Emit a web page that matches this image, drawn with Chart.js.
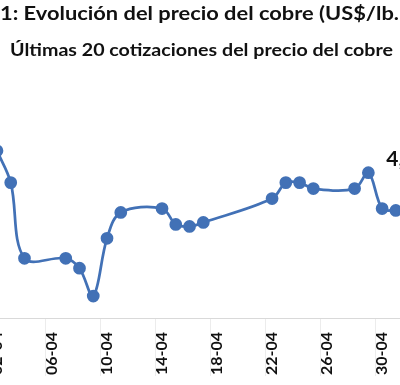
<!DOCTYPE html>
<html>
<head>
<meta charset="utf-8">
<script src="https://cdn.jsdelivr.net/npm/chart.js@4.4.1/dist/chart.umd.min.js"></script>
<style>
  html, body { margin:0; padding:0; background:#fff; }
  body { width:400px; height:385px; overflow:hidden; position:relative; }
  .ttl { position:absolute; white-space:nowrap; font-family:Lato, sans-serif; font-weight:bold; color:#111; line-height:1; transform-origin:left top; z-index:2; }
  #t1 { left:0; top:2.7px; font-size:19.5px; }
  #t2 { left:10px; top:42.4px; font-size:16.5px; }
  #c { position:absolute; left:0; top:0; }
</style>
</head>
<body>
<div class="ttl" id="t1">1: Evolución del precio del cobre (US$/lb.</div>
<div class="ttl" id="t2">Últimas 20 cotizaciones del precio del cobre</div>
<canvas id="c" width="400" height="385"></canvas>
<script>
// ---- data ----
const dates = ['02-04','03-04','04-04','07-04','08-04','09-04','10-04','11-04','14-04','15-04',
               '16-04','17-04','22-04','23-04','24-04','25-04','28-04','29-04','30-04','01-05'];
const prices = [4.39, 4.23, 3.85, 3.85, 3.80, 3.66, 3.95, 4.08, 4.10, 4.02,
                4.01, 4.03, 4.15, 4.23, 4.23, 4.20, 4.20, 4.28, 4.10, 4.09];
const tickLabels = ['02-04','06-04','10-04','14-04','18-04','22-04','26-04','30-04'];

function dayNum(s){ const [d,m] = s.split('-').map(Number); return d + (m === 5 ? 30 : 0); }
function fmtDay(v){ const m = v > 30 ? 5 : 4; const d = v > 30 ? v - 30 : v; return String(d).padStart(2,'0') + '-' + String(m).padStart(2,'0'); }

const points = dates.map((d,i) => ({x: dayNum(d), y: prices[i]}));
const tickVals = tickLabels.map(dayNum);

const lastLabel = {
  id: 'lastLabel',
  afterDatasetsDraw(chart){
    const meta = chart.getDatasetMeta(0);
    const el = meta.data[meta.data.length - 1];
    const v = prices[prices.length - 1];
    const ctx = chart.ctx;
    ctx.save();
    ctx.font = 'bold 21px Lato';
    ctx.fillStyle = '#111';
    ctx.textAlign = 'left';
    ctx.textBaseline = 'alphabetic';
    ctx.fillText(v.toFixed(2).replace('.', ','), el.x - 9.5, el.y - 44);
    ctx.restore();
  }
};

// faint tick marks between day slots (Excel-style date axis)
const tickMarks = {
  id: 'tickMarks',
  afterDraw(chart){
    const xs = chart.scales.x;
    const ctx = chart.ctx;
    ctx.save();
    ctx.strokeStyle = '#ececec';
    ctx.lineWidth = 1;
    tickVals.forEach(v => {
      const px = Math.round(xs.getPixelForValue(v - 0.5)) + 0.5;
      ctx.beginPath();
      ctx.moveTo(px, xs.top + 1);
      ctx.lineTo(px, xs.top + 58);
      ctx.stroke();
    });
    ctx.restore();
  }
};

const blue = '#4271B6';
new Chart(document.getElementById('c'), {
  type: 'line',
  data: { datasets: [{
    data: points,
    borderColor: blue,
    backgroundColor: blue,
    pointBackgroundColor: blue,
    pointBorderColor: blue,
    borderWidth: 2.75,
    pointRadius: 5,
    pointHoverRadius: 5,
    tension: 0.35,
    clip: false
  }]},
  options: {
    responsive: false,
    animation: false,
    devicePixelRatio: 1,
    layout: { autoPadding: false, padding: { top: 99, left: 0, right: 0, bottom: 0 } },
    plugins: { legend: { display: false }, tooltip: { enabled: false } },
    scales: {
      x: {
        type: 'linear',
        min: 2.22, max: 31.3,
        afterBuildTicks(scale){ scale.ticks = tickVals.map(v => ({value: v})); },
        afterFit(scale){ scale.height = 67; scale.paddingLeft = 0; scale.paddingRight = 0; },
        grid: { display: false, drawTicks: false },
        border: { display: true, color: '#d9d9d9', width: 1 },
        ticks: {
          autoSkip: false, minRotation: 90, maxRotation: 90, padding: 14,
          color: '#111', font: { family: 'Lato', weight: 'bold', size: 16 },
          callback: v => fmtDay(v)
        }
      },
      y: {
        display: false,
        min: 3.55, max: 4.65
      }
    }
  },
  plugins: [tickMarks, lastLabel]
});

document.fonts.load('bold 19px Lato').then(() => {
  const fit = (id, w) => { const el = document.getElementById(id); const r = el.getBoundingClientRect().width; el.style.transform = 'scaleX(' + (w / r) + ')'; };
  fit('t1', 399); fit('t2', 383);
});
</script>
</body>
</html>
